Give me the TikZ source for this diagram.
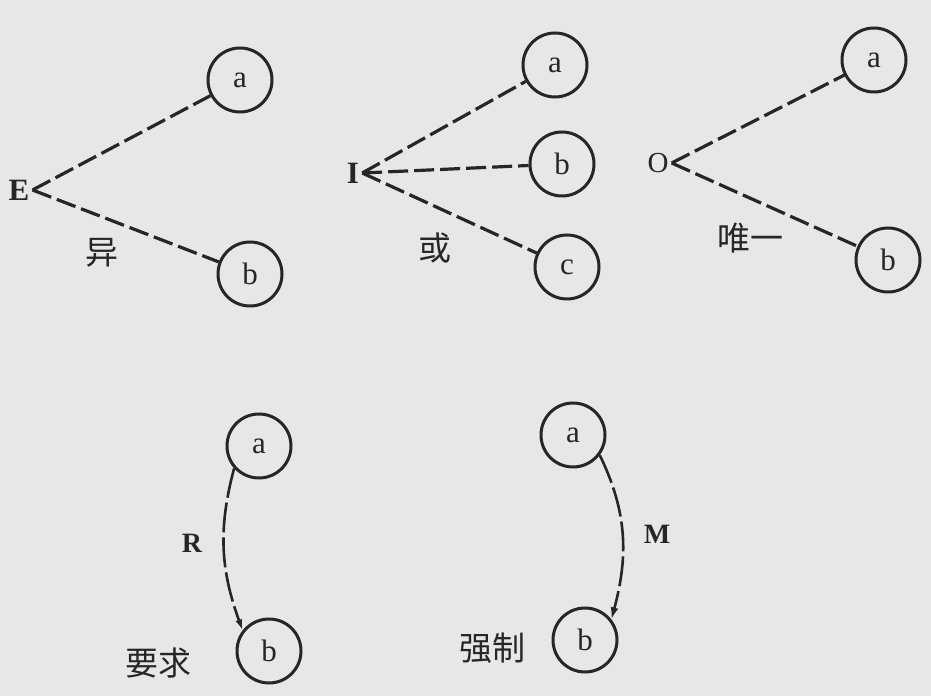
\documentclass[tikz,border=0pt]{standalone}
\usepackage{fontspec}
\setmainfont{Liberation Serif}
\newfontfamily\cjk{Noto Sans CJK SC}
\usetikzlibrary{arrows.meta}
\definecolor{ink}{HTML}{262626}
\definecolor{paper}{HTML}{E7E7E7}
\begin{document}
\begin{tikzpicture}[x=1pt,y=1pt,
  circ/.style={circle,draw=ink,line width=3pt,minimum size=64pt,inner sep=0pt,text=ink,font=\fontsize{31}{31}\selectfont},
  conn/.style={draw=ink,line width=3.2pt,dash pattern=on 20pt off 6pt},
  arcline/.style={draw=ink,line width=2.6pt,dash pattern=on 30pt off 5pt},
  bigletter/.style={font=\fontsize{31}{31}\selectfont\bfseries,inner sep=3pt,text=ink},
  smallletter/.style={font=\fontsize{28}{28}\selectfont\bfseries,inner sep=1pt,text=ink},
  cjklab/.style={font=\cjk\fontsize{33}{33}\selectfont,text=ink,inner sep=0pt}]
\path[fill=paper,use as bounding box] (0,0) rectangle (931,696);

% E group
\node[bigletter] (E) at (19,506) {E};
\node[circ] (Ea) at (240,616) {a};
\node[circ] (Eb) at (250,422) {b};
\node[cjklab] (Elab) at (102,443) {异};
\draw[conn] (E.east) -- (Ea);
\draw[conn] (E.east) -- (Eb);

% I group
\node[bigletter] (I) at (353,523) {I};
\node[circ] (Ia) at (555,631) {a};
\node[circ] (Ib) at (562,532) {b};
\node[circ] (Ic) at (567,429) {c};
\node[cjklab] (Ilab) at (435,448) {或};
\draw[conn] (I.east) -- (Ia);
\draw[conn] (I.east) -- (Ib);
\draw[conn] (I.east) -- (Ic);

% O group
\node[font=\fontsize{29}{29}\selectfont,inner sep=3pt,text=ink] (O) at (658,533) {O};
\node[circ] (Oa) at (874,636) {a};
\node[circ] (Ob) at (888,436) {b};
\node[cjklab] (Olab) at (750,458) {唯一};
\draw[conn] (O.east) -- (Oa);
\draw[conn] (O.east) -- (Ob);

% R
\node[circ] (Ra) at (259,250) {a};
\node[circ] (Rb) at (269,45) {b};
\node[smallletter] (Rlab) at (192,153) {R};
\node[cjklab] (Rtxt) at (158,33) {要求};
\draw[arcline,-{Latex[length=11pt,width=7pt]}] (Ra.222) to[out=255,in=110] (Rb.142);

% M
\node[circ] (Ma) at (573,261) {a};
\node[circ] (Mb) at (585,56) {b};
\node[smallletter] (Mlab) at (657,162) {M};
\node[cjklab] (Mtxt) at (492,48) {强制};
\draw[arcline,-{Latex[length=12pt,width=8pt]}] (Ma.323) to[out=296,in=75] (Mb.38);
\end{tikzpicture}
\end{document}
